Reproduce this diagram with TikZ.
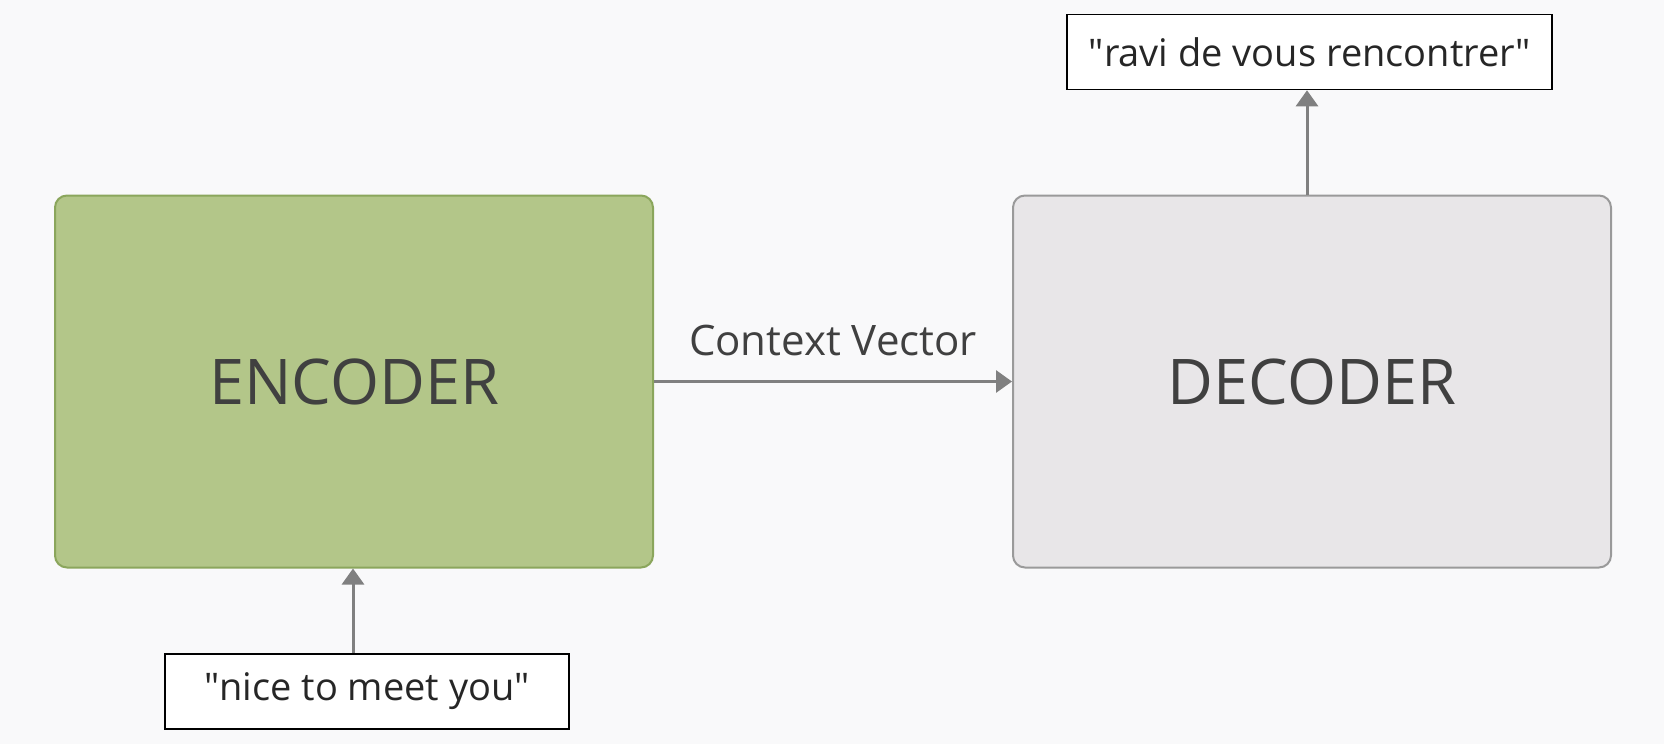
\documentclass[tikz,border=0pt]{standalone}
\usepackage{fontspec}
\setmainfont{Open Sans}
\usetikzlibrary{arrows.meta}
\usetikzlibrary{positioning}

\definecolor{bgpaper}{HTML}{F9F9FA}
\definecolor{encfill}{HTML}{B3C689}
\definecolor{encline}{HTML}{8BA65C}
\definecolor{decfill}{HTML}{E8E6E8}
\definecolor{decline}{HTML}{9A9A9A}
\definecolor{arrgray}{HTML}{808080}
\definecolor{txtgray}{HTML}{404040}

\newcommand{\qq}[1]{\textquotedbl#1\textquotedbl}

\tikzset{
  block/.style={rectangle,rounded corners=6pt,line width=1pt,
    minimum width=299pt,minimum height=186pt,text=txtgray,
    font=\fontsize{31.5}{38}\selectfont},
  wordbox/.style={rectangle,draw=black,fill=white,line width=0.8pt,
    minimum height=37.5pt,text=black!85,font=\fontsize{19}{23}\selectfont},
  arr/.style={draw=arrgray,line width=1.5pt,-{Triangle[length=8pt,width=11pt]}}
}

\begin{document}
\begin{tikzpicture}[x=0.5pt,y=-0.5pt]
      \fill[bgpaper] (0,0) rectangle (1664,744);
      \useasboundingbox (0,0) rectangle (1664,744);

      \node[block,fill=encfill,draw=encline] (encoder) at (354,381.5) {\raisebox{-2pt}{ENCODER}};
      \node[block,fill=decfill,draw=decline] (decoder) at (1312,381.5) {\raisebox{-2pt}{DECODER}};

      \node[wordbox,minimum width=202pt] (input) at (367,691.5) {\qq{nice to meet you}};
      \node[wordbox,minimum width=242.5pt] (output) at (1309.5,52) {\qq{ravi de vous rencontrer}};

      \coordinate (inx) at (353,0);
      \coordinate (outx) at (1307,0);

      \draw[arr] (input.north -| inx) -- (encoder.south -| inx);
      \draw[arr] (encoder.east) -- node[above=8.5pt,text=txtgray,
        font=\fontsize{21}{25}\selectfont] (ctx) {Context Vector} (decoder.west);
      \draw[arr] (decoder.north -| outx) -- (output.south -| outx);
    \end{tikzpicture}
\end{document}
